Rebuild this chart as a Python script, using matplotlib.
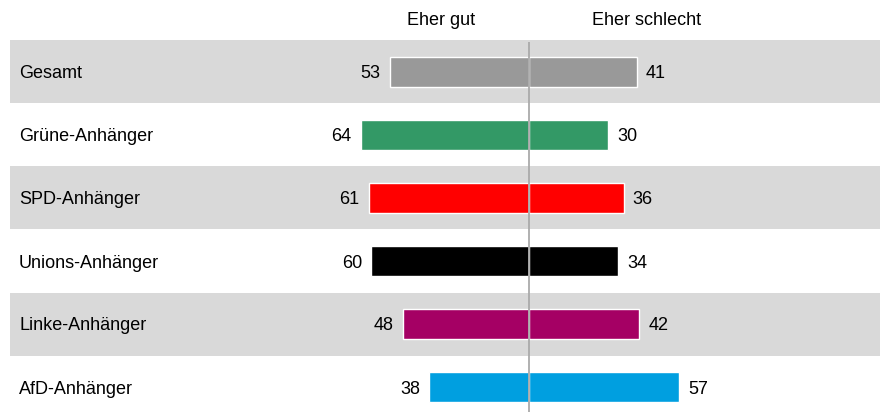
import numpy as np
import matplotlib.pyplot as plt

plt.rcParams['font.family'] = ['Liberation Sans', 'DejaVu Sans']

# ============================================================
# DATA
# ============================================================

groups = ["Gesamt", "Grüne-Anhänger", "SPD-Anhänger",
          "Unions-Anhänger", "Linke-Anhänger", "AfD-Anhänger"]
eher_gut = [53, 64, 61, 60, 48, 38]
eher_schlecht = [41, 30, 36, 34, 42, 57]
colors = ["#999999", "#339966", "#ff0000", "#000000", "#a50064", "#009fe0"]
headers = ["Eher gut", "Eher schlecht"]

# ============================================================
# PLOT
# ============================================================

fig = plt.figure(figsize=(8.8, 4.12), dpi=100)
ax = fig.add_axes([0, 0, 1, 1])

px = 2.63  # pixels per percentage point
ax.set_xlim(-529 / px, (880 - 529) / px)
row_h = 63.0
ax.set_ylim((412 - 72) / row_h, -72 / row_h)
ax.axis("off")

y = np.arange(len(groups))

# alternating row backgrounds
for i in y:
    if i % 2 == 0:
        ax.axhspan(i - 0.5, i + 0.5, xmin=10 / 880, xmax=1,
                   color="#d9d9d9", lw=0, zorder=0)

bar_h = 0.48
ax.barh(y, -np.array(eher_gut), height=bar_h, color=colors,
        edgecolor="white", linewidth=1, zorder=2)
ax.barh(y, eher_schlecht, height=bar_h, color=colors,
        edgecolor="white", linewidth=1, zorder=2)

# center line
ax.vlines(0, -0.47, 6, color="#aaaaaa", lw=1.3, zorder=3)

fs = 13
dy = 2 / row_h  # small downward nudge for text
for i, (g, s) in enumerate(zip(eher_gut, eher_schlecht)):
    ax.text(-g - 9 / px, i + dy, str(g), ha="right", va="center", fontsize=fs)
    ax.text(s + 9 / px, i + dy, str(s), ha="left", va="center", fontsize=fs)
    ax.text(19 / 880, i + dy, groups[i], ha="left", va="center", fontsize=fs,
            transform=ax.get_yaxis_transform())

ax.text((441 - 529) / px, (21 - 72) / row_h, headers[0],
        ha="center", va="center", fontsize=fs)
ax.text((647 - 529) / px, (21 - 72) / row_h, headers[1],
        ha="center", va="center", fontsize=fs)

fig.savefig("out.png", dpi=100)
